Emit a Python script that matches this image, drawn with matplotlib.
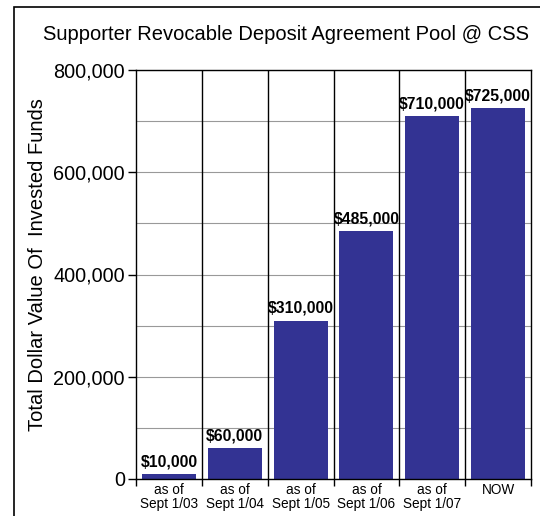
import matplotlib
matplotlib.use("Agg")
import matplotlib.pyplot as plt
from matplotlib.patches import Rectangle
from matplotlib.ticker import FuncFormatter, MultipleLocator
import numpy as np

categories = ["as of\nSept 1/03", "as of\nSept 1/04", "as of\nSept 1/05",
              "as of\nSept 1/06", "as of\nSept 1/07", "NOW"]
values = [10000, 60000, 310000, 485000, 710000, 725000]
value_labels = ["$10,000", "$60,000", "$310,000", "$485,000", "$710,000", "$725,000"]
yticks = [0, 200000, 400000, 600000, 800000]

plt.rcParams['font.family'] = ['Liberation Sans', 'DejaVu Sans']

fig = plt.figure(figsize=(5.4, 5.16), dpi=100)
fig.patches.append(Rectangle((14/540, -0.1), 1.2, 1 - 7/516 + 0.1,
                             transform=fig.transFigure, fill=False,
                             edgecolor='black', linewidth=1.2))
ax = fig.add_axes([136/540, 1 - 479/516, (531-136)/540, (479-70)/516])

x = np.arange(len(categories))
ax.bar(x, values, width=0.82, color='#333393', edgecolor='none', zorder=3)
for xi, v, lab in zip(x, values, value_labels):
    ax.text(xi, v + 9000, lab, ha='center', va='bottom', fontsize=11.3,
            fontweight='bold', zorder=4)

ax.set_xlim(-0.5, len(categories) - 0.5)
ax.set_ylim(0, 800000)
ax.set_yticks(yticks)
ax.yaxis.set_minor_locator(MultipleLocator(100000))
ax.yaxis.set_major_formatter(FuncFormatter(lambda v, p: f"{int(v):,}"))
ax.tick_params(axis='y', which='major', labelsize=14.3, length=6, width=1, pad=2)
ax.tick_params(axis='y', which='minor', length=0)
ax.grid(axis='y', which='both', color='#999999', linewidth=0.8, zorder=1)

# category labels at centers, ticks at boundaries
ax.set_xticks(np.arange(len(categories) + 1) - 0.5)
ax.set_xticklabels([])
ax.tick_params(axis='x', which='major', length=5, width=1)
ax.set_xticks(x, minor=True)
ax.set_xticklabels(categories, minor=True)
ax.tick_params(axis='x', which='minor', length=0, labelsize=9.8, pad=3)
for lbl in ax.get_xticklabels(minor=True):
    lbl.set_linespacing(0.95)
for b in np.arange(1, len(categories)):
    ax.axvline(b - 0.5, color='black', linewidth=1, zorder=2)

for s in ax.spines.values():
    s.set_linewidth(1)
    s.set_zorder(5)

fig.text(286/540, 1 - 34/516, "Supporter Revocable Deposit Agreement Pool @ CSS",
         ha='center', va='center', fontsize=14.5)
fig.text(38/540, 1 - 265/516, "Total Dollar Value Of  Invested Funds",
         ha='center', va='center', rotation=90, fontsize=14.5)

fig.savefig("out.png", dpi=100)
